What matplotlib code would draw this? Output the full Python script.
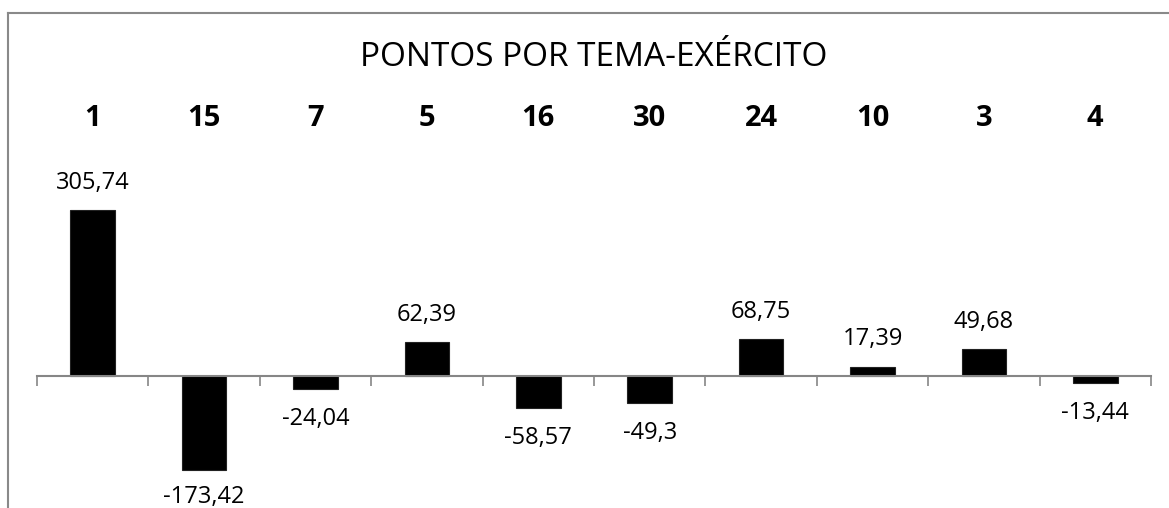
import matplotlib.pyplot as plt
from matplotlib.lines import Line2D

plt.rcParams['font.family'] = ['Open Sans', 'DejaVu Sans']

# dados
temas = ['1', '15', '7', '5', '16', '30', '24', '10', '3', '4']
pontos = [305.74, -173.42, -24.04, 62.39, -58.57, -49.3, 68.75, 17.39, 49.68, -13.44]
titulo = 'PONTOS POR TEMA-EXÉRCITO'

W, H = 1169, 508
fig = plt.figure(figsize=(W / 100, H / 100), dpi=100)

# area do grafico em pixels
x0, x1 = 37, 1151
ytop = 150
ax = fig.add_axes([x0 / W, 0, (x1 - x0) / W, (H - ytop) / H])

pos = list(range(len(temas)))
ax.bar(pos, pontos, width=0.4, color='black', edgecolor='#222222', linewidth=0.8)
ax.set_xlim(-0.5, len(temas) - 0.5)
ax.set_ylim(-243.3, 416.6)

for p, v in zip(pos, pontos):
    txt = str(v).replace('.', ',')
    if v >= 0:
        ax.annotate(txt, (p, v), xytext=(0, 19.5), textcoords='offset points',
                    ha='center', va='center', fontsize=17)
    else:
        # rotulo abaixo da barra, sem sair da figura
        yb = ax.transData.transform((p, v))[1]
        off = min(21.5, (yb - 11) * 0.72)
        ax.annotate(txt, (p, v), xytext=(0, -off), textcoords='offset points',
                    ha='center', va='center', fontsize=17)

for s in ['left', 'right', 'top']:
    ax.spines[s].set_visible(False)
ax.spines['bottom'].set_position(('data', 0))
ax.spines['bottom'].set_color('#868686')
ax.spines['bottom'].set_linewidth(1.5)
ax.set_yticks([])

ax.set_xticks(pos)
ax.set_xticklabels(temas, fontsize=21, fontweight='bold')
ax.tick_params(axis='x', which='major', length=0, bottom=False, top=True,
               labelbottom=False, labeltop=True, pad=12)
ax.set_xticks([i - 0.5 for i in range(len(temas) + 1)], minor=True)
ax.tick_params(axis='x', which='minor', length=7.2, width=1.2, color='#868686',
               direction='out', bottom=True, top=False)

fig.text(594 / W, 1 - 57 / H, titulo, ha='center', va='center', fontsize=24)

# borda da area do grafico
fig.add_artist(Line2D([8 / W, 8 / W], [0, 1 - 13 / H], color='#898989', lw=1.5))
fig.add_artist(Line2D([8 / W, 1], [1 - 13 / H, 1 - 13 / H], color='#898989', lw=1.5))

fig.savefig('out.png', dpi=100)
